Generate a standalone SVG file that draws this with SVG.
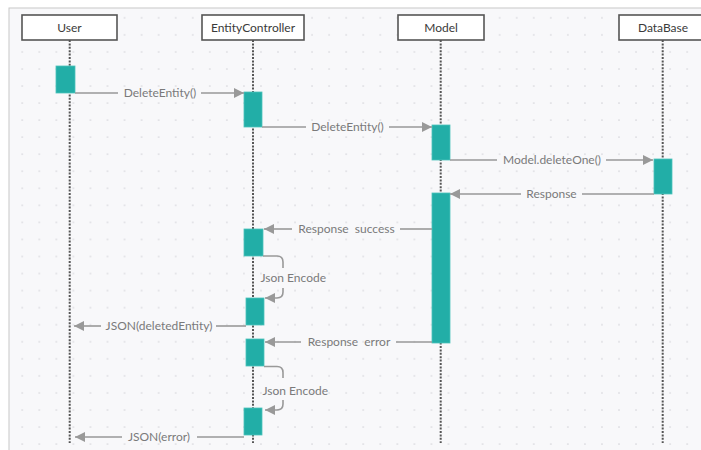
<svg xmlns="http://www.w3.org/2000/svg" width="701" height="450" viewBox="0 0 701 450">
<style>
.head{fill:#fff;stroke:#555;stroke-width:1.6}
.htxt{font-family:Lato,"Open Sans",sans-serif;font-size:12px;fill:#3a3a3a;text-anchor:middle}
.life{stroke:#555;stroke-width:2;stroke-dasharray:2 1.4;fill:none}
.act{fill:#22aea7;stroke:#4cc2bb;stroke-width:0.8}
.msg{stroke:#999;stroke-width:1.6;fill:none}
.mtxt{font-family:Lato,"Open Sans",sans-serif;font-size:12px;fill:#7a7a7a;text-anchor:middle;white-space:pre}
.ltxt{text-anchor:start}
</style>
<defs>
<pattern id="dots" x="5.2" y="0.7" width="17.05" height="17.05" patternUnits="userSpaceOnUse">
<circle cx="0" cy="0" r="0.8" fill="#d2d2d8"/>
<circle cx="17.05" cy="0" r="0.8" fill="#d2d2d8"/>
<circle cx="0" cy="17.05" r="0.8" fill="#d2d2d8"/>
<circle cx="17.05" cy="17.05" r="0.8" fill="#d2d2d8"/>
</pattern>
<marker id="ah" markerUnits="userSpaceOnUse" markerWidth="10" markerHeight="10" refX="10" refY="5" orient="auto">
<path d="M0,0 L10,5 L0,10 z" fill="#999"/>
</marker>
</defs>
<rect x="0" y="0" width="701" height="450" fill="#fff"/>
<rect x="9" y="8" width="700" height="450" fill="#f8f8fa" stroke="#c8c8c8" stroke-width="1"/>
<rect x="9.5" y="8.5" width="700" height="450" fill="url(#dots)"/>

<g id="User">
<line class="life" x1="69.7" y1="40" x2="69.7" y2="443"/>
<rect class="head" x="22" y="15" width="95" height="25"/>
<text class="htxt" x="69.5" y="32">User</text>
<rect class="act" x="56" y="66" width="19" height="27"/>
</g>
<g id="EntityController">
<line class="life" x1="253" y1="40" x2="253" y2="443"/>
<rect class="head" x="202" y="15" width="102" height="25"/>
<text class="htxt" x="253" y="32">EntityController</text>
<rect class="act" x="244" y="92" width="18" height="35"/>
<rect class="act" x="244" y="229" width="19" height="27"/>
<rect class="act" x="246" y="298" width="18" height="27"/>
<rect class="act" x="246" y="339" width="18" height="27"/>
<rect class="act" x="244" y="408" width="18" height="27"/>
</g>
<g id="Model">
<line class="life" x1="440.7" y1="40" x2="440.7" y2="443"/>
<rect class="head" x="398" y="15" width="86" height="25"/>
<text class="htxt" x="441" y="32">Model</text>
<rect class="act" x="432" y="125" width="18" height="35"/>
<rect class="act" x="432" y="193" width="18" height="150"/>
</g>
<g id="DataBase">
<line class="life" x1="662.7" y1="40" x2="662.7" y2="443"/>
<rect class="head" x="619" y="15" width="88" height="25"/>
<text class="htxt" x="663" y="32">DataBase</text>
<rect class="act" x="654" y="159" width="18" height="35"/>
</g>

<g id="connectors">
<line class="msg" x1="75" y1="93" x2="118" y2="93"/>
<line class="msg" x1="201" y1="93" x2="244" y2="93" marker-end="url(#ah)"/>
<text class="mtxt" x="160" y="97">DeleteEntity()</text>

<line class="msg" x1="262" y1="127" x2="306" y2="127"/>
<line class="msg" x1="389" y1="127" x2="432" y2="127" marker-end="url(#ah)"/>
<text class="mtxt" x="347.5" y="131">DeleteEntity()</text>

<line class="msg" x1="450" y1="160" x2="497" y2="160"/>
<line class="msg" x1="606" y1="160" x2="653" y2="160" marker-end="url(#ah)"/>
<text class="mtxt" x="552" y="164">Model.deleteOne()</text>

<line class="msg" x1="654" y1="194" x2="582" y2="194"/>
<line class="msg" x1="521" y1="194" x2="450" y2="194" marker-end="url(#ah)"/>
<text class="mtxt" x="551.5" y="198">Response</text>

<line class="msg" x1="432" y1="229" x2="400" y2="229"/>
<line class="msg" x1="292" y1="229" x2="264" y2="229" marker-end="url(#ah)"/>
<text class="mtxt" x="346.5" y="233">Response  success</text>

<path class="msg" d="M263,256 H277 Q283,256 283,262 V268"/>
<path class="msg" d="M283,288 V292 Q283,298 277,298 H265" marker-end="url(#ah)"/>
<text class="mtxt ltxt" x="260.5" y="282">Json Encode</text>

<line class="msg" x1="246" y1="326" x2="216" y2="326"/>
<line class="msg" x1="101" y1="326" x2="74" y2="326" marker-end="url(#ah)"/>
<text class="mtxt" x="159" y="330">JSON(deletedEntity)</text>

<line class="msg" x1="432" y1="342" x2="396" y2="342"/>
<line class="msg" x1="301" y1="342" x2="265" y2="342" marker-end="url(#ah)"/>
<text class="mtxt" x="349" y="346">Response  error</text>

<path class="msg" d="M264,366.5 H277 Q283,366.5 283,372.5 V378"/>
<path class="msg" d="M283,400 V404 Q283,410 277,410 H265" marker-end="url(#ah)"/>
<text class="mtxt ltxt" x="262.5" y="394.5">Json Encode</text>

<line class="msg" x1="244" y1="437" x2="197" y2="437"/>
<line class="msg" x1="122" y1="437" x2="75" y2="437" marker-end="url(#ah)"/>
<text class="mtxt" x="159" y="441">JSON(error)</text>
</g>
</svg>
